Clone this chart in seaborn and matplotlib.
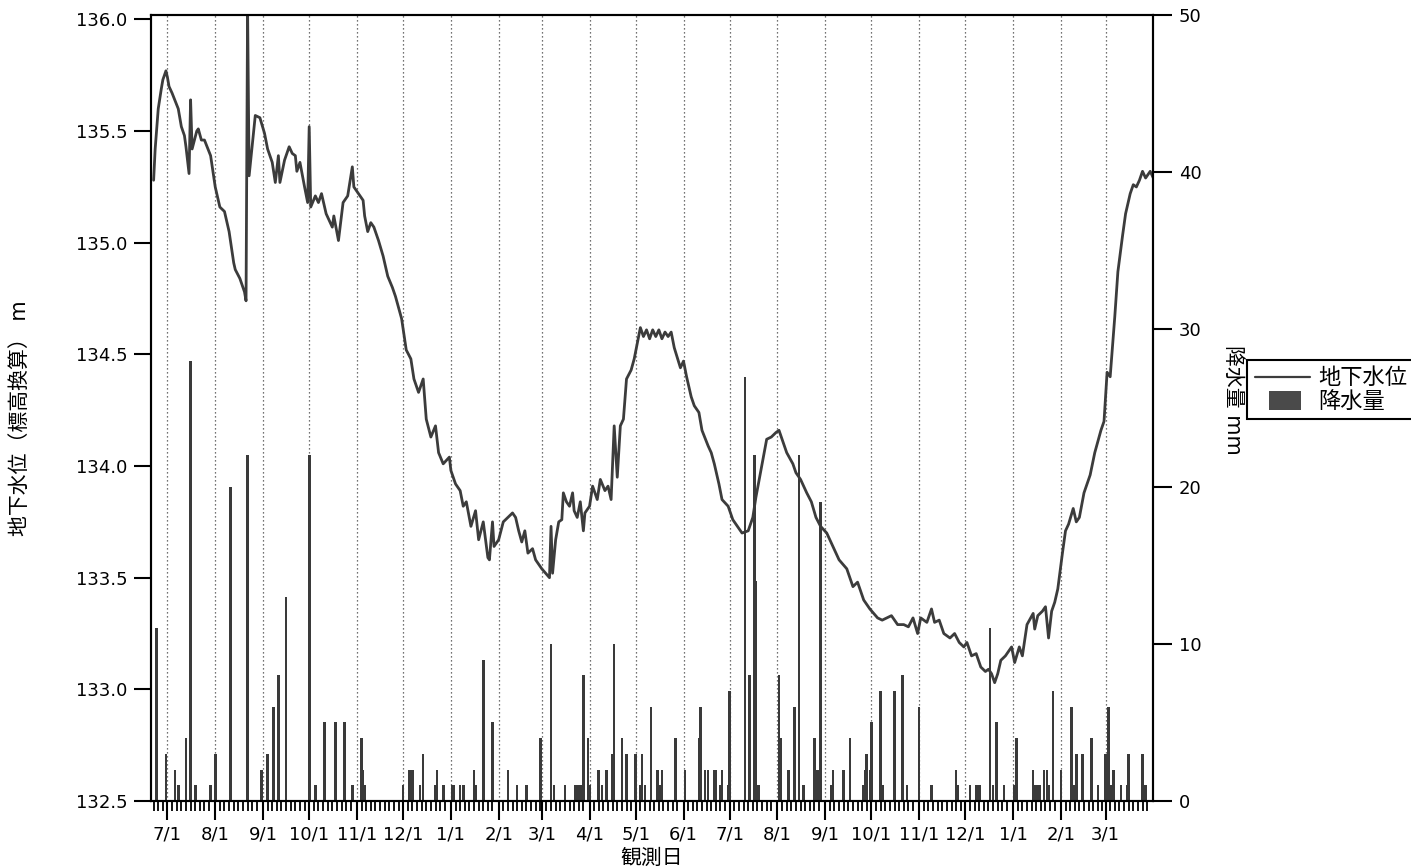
import matplotlib
matplotlib.use("Agg")
import matplotlib.pyplot as plt
import matplotlib.dates as mdates
from matplotlib.ticker import FuncFormatter
from matplotlib.lines import Line2D
from matplotlib.patches import Rectangle
from matplotlib.legend_handler import HandlerPatch
import pandas as pd
import seaborn as sns

# ---------------- data ----------------
start_date = "2010-07-01"          # day 0 of the groundwater record (7/1)

# groundwater level: day offset from start_date, level in m
gw_day = [-9, -8, -6, -4, -3, -1, 0, 1, 3, 7, 9, 11, 12, 14, 15, 16, 19, 20, 22, 24,
          28, 31, 34, 37, 40, 43, 44, 47, 50, 51, 52, 53, 57, 60, 63, 65, 68, 70, 72, 73,
          76, 79, 81, 83, 84, 86, 89, 91, 92, 93, 96, 98, 100, 103, 107, 108, 111, 114, 117, 120,
          121, 124, 127, 128, 130, 132, 134, 137, 140, 143, 146, 148, 152, 155, 158, 160, 163, 166, 168, 171,
          174, 176, 179, 183, 184, 187, 190, 192, 194, 197, 200, 202, 205, 208, 209, 211, 212, 215, 218, 221,
          224, 226, 228, 230, 232, 234, 237, 239, 240, 243, 248, 249, 250, 252, 254, 256, 257, 259, 261, 263,
          264, 266, 268, 270, 271, 274, 276, 279, 281, 284, 286, 288, 290, 292, 294, 296, 298, 301, 303, 305,
          307, 309, 311, 313, 315, 317, 319, 321, 323, 325, 327, 329, 333, 335, 337, 340, 342, 345, 347, 351,
          353, 355, 358, 360, 364, 367, 370, 373, 377, 380, 382, 386, 389, 392, 395, 397, 399, 402, 406, 408,
          411, 415, 418, 421, 424, 428, 432, 436, 441, 445, 448, 452, 456, 461, 464, 470, 474, 478, 481, 484,
          487, 489, 493, 496, 498, 501, 504, 508, 511, 514, 517, 519, 522, 525, 528, 531, 533, 535, 537, 539,
          541, 544, 548, 550, 553, 555, 558, 562, 563, 565, 568, 570, 572, 574, 576, 578, 581, 583, 585, 588,
          590, 592, 595, 599, 602, 606, 608, 610, 612, 615, 617, 620, 622, 625, 627, 629, 631, 633, 635, 638,
          640, 641]
gw_level = [135.28, 135.42, 135.60, 135.69, 135.73, 135.77, 135.74, 135.70, 135.67, 135.60,
            135.52, 135.48, 135.43, 135.31, 135.64, 135.42, 135.50, 135.51, 135.46, 135.46,
            135.39, 135.25, 135.16, 135.14, 135.05, 134.91, 134.88, 134.84, 134.78, 134.74,
            136.05, 135.30, 135.57, 135.56, 135.49, 135.42, 135.36, 135.27, 135.39, 135.27,
            135.37, 135.43, 135.40, 135.39, 135.32, 135.36, 135.25, 135.18, 135.52, 135.16,
            135.21, 135.18, 135.22, 135.13, 135.07, 135.12, 135.01, 135.18, 135.21, 135.34,
            135.25, 135.22, 135.19, 135.12, 135.05, 135.09, 135.07, 135.01, 134.94, 134.85,
            134.80, 134.76, 134.66, 134.52, 134.48, 134.39, 134.33, 134.39, 134.21, 134.13,
            134.18, 134.06, 134.01, 134.04, 133.98, 133.92, 133.89, 133.82, 133.84, 133.73,
            133.80, 133.67, 133.75, 133.59, 133.58, 133.75, 133.64, 133.67, 133.75, 133.77,
            133.79, 133.77, 133.71, 133.66, 133.71, 133.61, 133.63, 133.58, 133.57, 133.54,
            133.50, 133.73, 133.52, 133.67, 133.75, 133.76, 133.88, 133.84, 133.82, 133.88,
            133.80, 133.77, 133.84, 133.71, 133.79, 133.82, 133.91, 133.85, 133.94, 133.89,
            133.91, 133.85, 134.18, 133.95, 134.18, 134.21, 134.39, 134.43, 134.48, 134.55,
            134.62, 134.58, 134.61, 134.57, 134.61, 134.58, 134.61, 134.57, 134.60, 134.58,
            134.60, 134.53, 134.44, 134.47, 134.40, 134.31, 134.27, 134.24, 134.16, 134.09,
            134.06, 134.01, 133.92, 133.85, 133.82, 133.76, 133.73, 133.70, 133.71, 133.77,
            133.86, 134.01, 134.12, 134.13, 134.15, 134.16, 134.12, 134.06, 134.01, 133.97,
            133.94, 133.88, 133.84, 133.77, 133.73, 133.70, 133.64, 133.58, 133.54, 133.46,
            133.48, 133.40, 133.36, 133.32, 133.31, 133.33, 133.29, 133.29, 133.28, 133.32,
            133.25, 133.32, 133.30, 133.36, 133.30, 133.31, 133.25, 133.23, 133.25, 133.21,
            133.19, 133.21, 133.15, 133.16, 133.10, 133.08, 133.09, 133.07, 133.03, 133.07,
            133.13, 133.15, 133.19, 133.12, 133.19, 133.15, 133.29, 133.34, 133.27, 133.33,
            133.35, 133.37, 133.23, 133.35, 133.39, 133.45, 133.61, 133.71, 133.74, 133.81,
            133.75, 133.77, 133.88, 133.96, 134.06, 134.16, 134.20, 134.42, 134.40, 134.67,
            134.87, 135.03, 135.13, 135.22, 135.26, 135.25, 135.28, 135.32, 135.29, 135.32,
            135.29, 135.31]

# daily precipitation (mm) on rainy days
rain_date = ["2010-06-24", "2010-06-30", "2010-07-06", "2010-07-08", "2010-07-13", "2010-07-16",
             "2010-07-19", "2010-07-29", "2010-08-01", "2010-08-11", "2010-08-22", "2010-08-31",
             "2010-09-04", "2010-09-08", "2010-09-11", "2010-09-16", "2010-10-01", "2010-10-05",
             "2010-10-11", "2010-10-18", "2010-10-24", "2010-10-29", "2010-11-04", "2010-11-05",
             "2010-11-06", "2010-12-01", "2010-12-05", "2010-12-07", "2010-12-12", "2010-12-14",
             "2010-12-22", "2010-12-23", "2010-12-27", "2011-01-02", "2011-01-03", "2011-01-07",
             "2011-01-09", "2011-01-16", "2011-01-17", "2011-01-22", "2011-01-28", "2011-02-07",
             "2011-02-13", "2011-02-19", "2011-02-28", "2011-03-07", "2011-03-09", "2011-03-16",
             "2011-03-23", "2011-03-24", "2011-03-26", "2011-03-28", "2011-03-31", "2011-04-01",
             "2011-04-07", "2011-04-09", "2011-04-12", "2011-04-16", "2011-04-17", "2011-04-22",
             "2011-04-25", "2011-05-01", "2011-05-04", "2011-05-05", "2011-05-07", "2011-05-11",
             "2011-05-15", "2011-05-17", "2011-05-18", "2011-05-27", "2011-06-02", "2011-06-11",
             "2011-06-12", "2011-06-15", "2011-06-17", "2011-06-21", "2011-06-22", "2011-06-25",
             "2011-06-26", "2011-06-30", "2011-07-01", "2011-07-11", "2011-07-14", "2011-07-17",
             "2011-07-18", "2011-07-19", "2011-07-20", "2011-08-02", "2011-08-03", "2011-08-08",
             "2011-08-12", "2011-08-15", "2011-08-18", "2011-08-25", "2011-08-27", "2011-08-29",
             "2011-09-05", "2011-09-06", "2011-09-13", "2011-09-17", "2011-09-26", "2011-09-27",
             "2011-09-28", "2011-09-30", "2011-10-01", "2011-10-07", "2011-10-08", "2011-10-16",
             "2011-10-21", "2011-10-24", "2011-11-01", "2011-11-09", "2011-11-25", "2011-11-26",
             "2011-12-04", "2011-12-08", "2011-12-09", "2011-12-10", "2011-12-17", "2011-12-19",
             "2011-12-21", "2011-12-26", "2012-01-02", "2012-01-03", "2012-01-14", "2012-01-15",
             "2012-01-16", "2012-01-17", "2012-01-18", "2012-01-21", "2012-01-23", "2012-01-24",
             "2012-01-27", "2012-02-01", "2012-02-08", "2012-02-09", "2012-02-11", "2012-02-15",
             "2012-02-21", "2012-02-25", "2012-03-01", "2012-03-03", "2012-03-04", "2012-03-05",
             "2012-03-06", "2012-03-11", "2012-03-15", "2012-03-16", "2012-03-25", "2012-03-27"]
rain_mm = [11, 3, 2, 1, 4, 28,
           1, 1, 3, 20, 22, 2,
           3, 6, 8, 13, 22, 1,
           5, 5, 5, 1, 4, 2,
           1, 1, 2, 2, 1, 3,
           1, 2, 1, 1, 1, 1,
           1, 2, 1, 9, 5, 2,
           1, 1, 4, 10, 1, 1,
           1, 1, 1, 8, 4, 1,
           2, 1, 2, 3, 10, 4,
           3, 3, 1, 3, 1, 6,
           2, 1, 2, 4, 2, 4,
           6, 2, 2, 2, 2, 1,
           2, 1, 7, 27, 8, 22,
           14, 1, 1, 8, 4, 2,
           6, 22, 1, 4, 2, 19,
           1, 2, 2, 4, 1, 2,
           3, 2, 5, 7, 1, 7,
           8, 1, 6, 1, 2, 1,
           1, 1, 1, 1, 11, 1,
           5, 1, 1, 4, 2, 1,
           1, 1, 1, 2, 2, 1,
           7, 2, 6, 1, 3, 3,
           4, 1, 3, 6, 1, 1,
           2, 1, 1, 3, 3, 1]

level_ticks = [132.5, 133.0, 133.5, 134.0, 134.5, 135.0, 135.5, 136.0]
rain_ticks = [0, 10, 20, 30, 40, 50]
labels = {"level": "地下水位", "rain": "降水量",
          "ylabel": "地下水位（標高換算） m", "y2label": "降水量 mm", "xlabel": "観測日"}

# ---------------- frame ----------------
gw = pd.DataFrame({"date": pd.Timestamp(start_date) + pd.to_timedelta(gw_day, unit="D"),
                   "level": gw_level})
rain = pd.DataFrame({"date": pd.to_datetime(rain_date), "mm": rain_mm})

sns.set_theme(style="ticks")
plt.rcParams["font.family"] = ["DejaVu Sans", "Noto Sans CJK JP"]
plt.rcParams["axes.edgecolor"] = "black"
plt.rcParams["xtick.color"] = "black"
plt.rcParams["ytick.color"] = "black"
plt.rcParams["text.color"] = "black"
plt.rcParams["axes.labelcolor"] = "black"

W, H = 1411, 867
fig = plt.figure(figsize=(W / 100, H / 100), dpi=100)
fig.patch.set_facecolor("white")
ax = fig.add_axes([151 / W, 66 / H, 1002 / W, 786 / H])

line_col = "#3c3c3c"
bar_col = "#3a3a3a"

sns.lineplot(data=gw, x="date", y="level", ax=ax, color=line_col, lw=2.0, legend=False)

ax2 = ax.twinx()
ax2.bar(rain["date"], rain["mm"], width=1.7, color=bar_col, align="center", linewidth=0)

t0 = pd.Timestamp(start_date)
ax.set_xlim(t0 - pd.Timedelta(days=10.7), t0 + pd.Timedelta(days=639.8))
ax.set_ylim(132.5, 136.02)
ax2.set_ylim(0, 50)
ax.set_yticks(level_ticks)
ax.yaxis.set_major_formatter(FuncFormatter(lambda v, p: f"{v:.1f}"))
ax2.set_yticks(rain_ticks)

ax.xaxis.set_major_locator(mdates.MonthLocator())
ax.xaxis.set_minor_locator(mdates.DayLocator(bymonthday=[4, 7, 10, 13, 16, 19, 22, 25, 28]))
ax.xaxis.set_major_formatter(FuncFormatter(
    lambda v, p: f"{mdates.num2date(v).month}/{mdates.num2date(v).day}"))

ax.grid(False)
ax2.grid(False)
ax.xaxis.grid(True, which="major", linestyle=(0, (1, 2.2)), color="#444444", lw=0.9)

for a in (ax, ax2):
    for s in a.spines.values():
        s.set_visible(True)
        s.set_linewidth(1.5)
        s.set_color("black")

ax.tick_params(axis="y", which="major", direction="out", length=12, width=1.5,
               pad=5, labelsize=13)
ax.tick_params(axis="x", which="major", direction="out", length=13.5, width=1.5,
               pad=4, labelsize=13)
ax.tick_params(axis="x", which="minor", direction="out", length=7, width=1.3)
ax2.tick_params(axis="y", which="major", direction="out", length=13.5, width=1.5,
                pad=5, labelsize=13)
ax2.tick_params(axis="y", which="minor", length=0)

ax.set_xlabel(labels["xlabel"], fontsize=15, labelpad=3)
ax.set_ylabel(labels["ylabel"], fontsize=15)
ax.yaxis.set_label_coords(-0.121, 0.487)
ax2.set_ylabel(labels["y2label"], fontsize=15, rotation=-90, ha="center", va="center")
ax2.yaxis.set_label_coords(1.080, 0.51)


def small_patch(legend, orig_handle, xdescent, ydescent, width, height, fontsize):
    return Rectangle((-xdescent + 0.25 * width, -ydescent - 0.12 * height),
                     0.58 * width, 1.22 * height)


h_line = Line2D([0], [0], color=line_col, lw=1.6)
h_bar = Rectangle((0, 0), 1, 1, facecolor="#4a4a4a", edgecolor="none")
leg = fig.legend([h_line, h_bar], [labels["level"], labels["rain"]],
                 loc="upper left", bbox_to_anchor=(1247 / W, 507 / H),
                 frameon=True, fancybox=False, shadow=False, edgecolor="black",
                 framealpha=1, fontsize=16, handlelength=2.5, handletextpad=0.35,
                 labelspacing=0.1, borderpad=0.35, borderaxespad=0,
                 handler_map={Rectangle: HandlerPatch(patch_func=small_patch)})
leg.get_frame().set_linewidth(1.5)

fig.savefig("out.png", dpi=100, facecolor="white")
